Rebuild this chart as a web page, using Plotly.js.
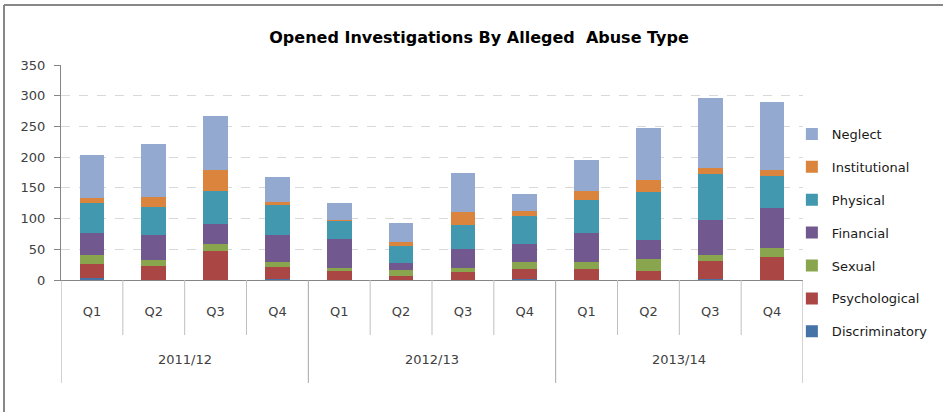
<!DOCTYPE html>
<html>
<head>
<meta charset="utf-8">
<script src="https://cdn.plot.ly/plotly-3.0.1.min.js"></script>
<style>
html,body{margin:0;padding:0;background:#fff;}
#chart{width:943px;height:412px;}
</style>
</head>
<body>
<div id="chart"></div>
<script>
var years = ["2011/12","2011/12","2011/12","2011/12","2012/13","2012/13","2012/13","2012/13","2013/14","2013/14","2013/14","2013/14"];
var quarters = ["Q1","Q2","Q3","Q4","Q1","Q2","Q3","Q4","Q1","Q2","Q3","Q4"];

var discriminatory = [4, 0, 0, 2, 0, 0, 0, 2, 0, 0, 2, 0];
var psychological  = [22, 23, 47, 19, 15, 7, 13, 16, 18, 15, 29, 37];
var sexual         = [15, 10, 12, 8, 5, 9, 7, 11, 11, 19, 10, 15];
var financial      = [36, 40, 32, 44, 47, 12, 31, 30, 48, 31, 57, 65];
var physical       = [48, 46, 54, 49, 29, 27, 39, 45, 53, 78, 75, 52];
var institutional  = [9, 16, 34, 5, 2, 7, 20, 8, 15, 20, 10, 10];
var neglect        = [70, 86, 88, 41, 27, 31, 65, 28, 50, 85, 114, 111];

var seriesNames = ["Discriminatory","Psychological","Sexual","Financial","Physical","Institutional","Neglect"];
var seriesValues = [discriminatory, psychological, sexual, financial, physical, institutional, neglect];
var seriesColors = ["#4572A7","#AA4643","#89A54E","#71588F","#4198AF","#DB843D","#93A9CF"];

var FONT = "'DejaVu Sans', Verdana, sans-serif";
var cats = years.map(function(y, i){ return y + " " + quarters[i]; });

var traces = seriesNames.map(function(name, i){
  return {
    type: "bar",
    name: name,
    x: cats,
    y: seriesValues[i],
    marker: {color: seriesColors[i], line: {width: 0}},
    legendgroup: name,
    legendrank: seriesNames.length - i,
    hoverinfo: "y+name"
  };
});

// separators and group labels derived from the categories
var shapes = [];
var annotations = [];
var yQ = -55 / 215;   // quarter separator depth (paper units)
var yY = -103 / 215;  // year separator depth
shapes.push({type: "line", xref: "x", yref: "paper", x0: -0.5, x1: -0.5, y0: 0, y1: yY, line: {color: "#A6A6A6", width: 1}});
for (var i = 0; i < cats.length; i++) {
  var last = (i === cats.length - 1) || years[i + 1] !== years[i];
  shapes.push({type: "line", xref: "x", yref: "paper", x0: i + 0.5, x1: i + 0.5, y0: 0, y1: last ? yY : yQ,
               line: {color: last ? "#A6A6A6" : "#BFBFBF", width: 1}});
}
var uniqueYears = years.filter(function(y, i){ return years.indexOf(y) === i; });
uniqueYears.forEach(function(y){
  var first = years.indexOf(y), lastIdx = years.lastIndexOf(y);
  annotations.push({text: y, xref: "x", yref: "paper", x: (first + lastIdx) / 2, y: -79 / 215,
                    xanchor: "center", yanchor: "middle", showarrow: false,
                    font: {family: FONT, size: 13, color: "#404040"}});
});
// outer frame (top and left edges)
shapes.push({type: "line", xref: "paper", yref: "paper", x0: -57 / 742, x1: 882 / 742, y0: 275 / 215, y1: 275 / 215, line: {color: "#878787", width: 2}});
shapes.push({type: "line", xref: "paper", yref: "paper", x0: -57 / 742, x1: -57 / 742, y0: 275 / 215, y1: -132 / 215, line: {color: "#878787", width: 2}});

var layout = {
  width: 943,
  height: 412,
  barmode: "stack",
  bargap: 0.6,
  paper_bgcolor: "#ffffff",
  plot_bgcolor: "#ffffff",
  font: {family: FONT, size: 13, color: "#404040"},
  margin: {l: 61, r: 140, t: 65, b: 132, pad: 0, autoexpand: false},
  title: {
    text: "<b>Opened Investigations By Alleged  Abuse Type</b>",
    font: {family: FONT, size: 16, color: "#000000"},
    x: 0.508, xanchor: "center", xref: "container",
    y: 0.91, yanchor: "middle", yref: "container"
  },
  xaxis: {
    type: "category",
    tickmode: "array",
    tickvals: cats,
    ticktext: quarters,
    range: [-0.5, cats.length - 0.5],
    showline: true,
    linecolor: "#868686",
    linewidth: 1,
    ticks: "",
    tickfont: {family: FONT, size: 13, color: "#404040"},
    ticklabelstandoff: 19,
    showgrid: false,
    zeroline: false,
    automargin: false,
    fixedrange: true
  },
  yaxis: {
    range: [0, 350],
    dtick: 50,
    showline: true,
    linecolor: "#868686",
    ticks: "outside",
    ticklen: 6,
    tickcolor: "#868686",
    tickfont: {family: FONT, size: 13, color: "#404040"},
    showgrid: true,
    gridcolor: "#D9D9D9",
    griddash: "dash",
    gridwidth: 1,
    zeroline: false,
    automargin: false,
    ticklabelstandoff: 6
  },
  legend: {
    x: 0.985, xanchor: "left",
    y: 0.749, yanchor: "top",
    traceorder: "grouped",
    tracegroupgap: 13,
    maxheight: 400,
    font: {family: FONT, size: 13, color: "#1a1a1a"},
    itemwidth: 30,
    bgcolor: "rgba(0,0,0,0)"
  },
  shapes: shapes,
  annotations: annotations
};

Plotly.newPlot("chart", traces, layout, {displayModeBar: false, staticPlot: true});
</script>
</body>
</html>
